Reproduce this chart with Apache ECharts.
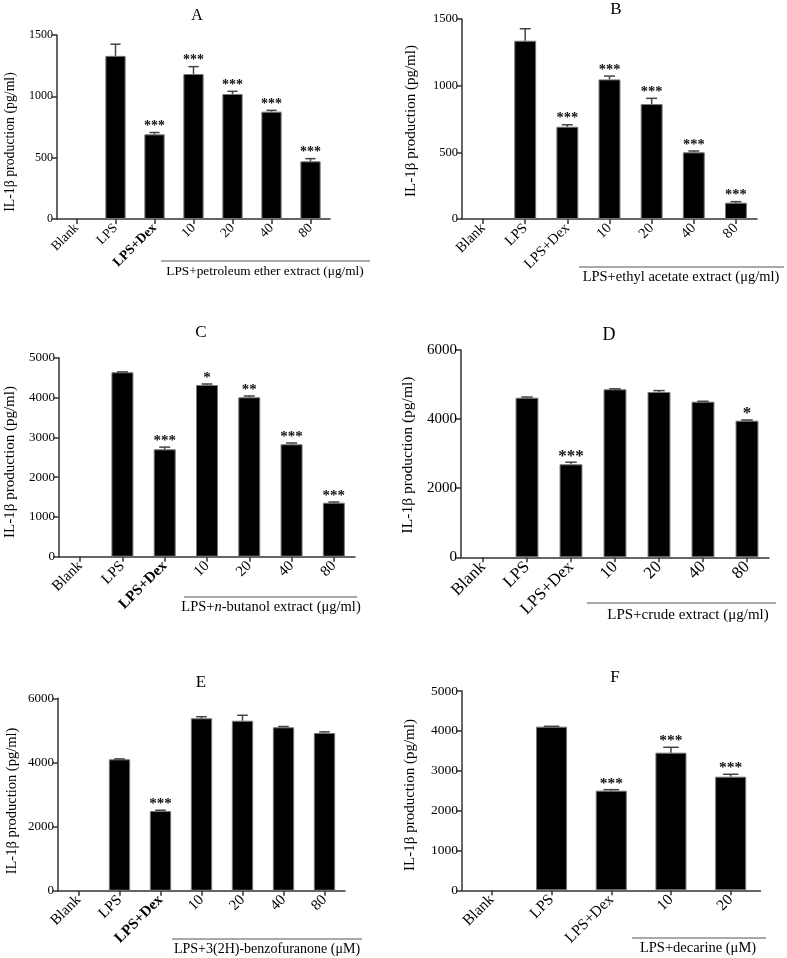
<!DOCTYPE html>
<html><head><meta charset="utf-8">
<script src="https://cdn.jsdelivr.net/npm/echarts@6/dist/echarts.min.js"></script>
<style>html,body{margin:0;padding:0;background:#fff}#c{width:787px;height:958px}</style>
</head><body><div id="c"></div>
<script>
// ---- data ----
const catsExtract = ['Blank', 'LPS', 'LPS+Dex', '10', '20', '40', '80'];
const catsDecarine = ['Blank', 'LPS', 'LPS+Dex', '10', '20'];

const valA = [0, 1330, 690, 1182, 1019, 875, 470];
const errA = [0, 95, 15, 60, 22, 11, 22];
const starsA = ['', '', '***', '***', '***', '***', '***'];

const valB = [0, 1337, 692, 1047, 862, 500, 122];
const errB = [0, 90, 15, 25, 43, 10, 8];
const starsB = ['', '', '***', '***', '***', '***', '***'];

const valC = [0, 4633, 2698, 4314, 4005, 2824, 1357];
const errC = [0, 10, 55, 25, 33, 33, 17];
const starsC = ['', '', '***', '*', '**', '***', '***'];

const valD = [0, 4619, 2692, 4862, 4785, 4504, 3954];
const errD = [0, 20, 60, 15, 40, 12, 20];
const starsD = ['', '', '***', '', '', '', '*'];

const valE = [0, 4098, 2485, 5376, 5301, 5096, 4918];
const errE = [0, 12, 25, 50, 170, 25, 35];
const starsE = ['', '', '***', '', '', '', ''];

const valF = [0, 4105, 2500, 3453, 2851];
const errF = [0, 10, 25, 135, 60];
const starsF = ['', '', '***', '***', '***'];

const yTitle = 'IL-1β production (pg/ml)';

// ---- layout ----
const SERIF = '"Liberation Serif", "Times New Roman", serif';
const panels = [
  {id:'A', cats:catsExtract, vals:valA, errs:errA, stars:starsA, max:1500, interval:500,
   group:'{r|LPS+petroleum ether extract (μg/ml)}', grid:{left:57, top:35, width:273, height:184},
   fs:12, gfs:13.3, tfs:16, title:[197,16], ylab:[10,142], line:[161,370,261], gtext:[265,272], boldDex:true},
  {id:'B', cats:catsExtract, vals:valB, errs:errB, stars:starsB, max:1500, interval:500,
   group:'{r|LPS+ethyl acetate extract (μg/ml)}', grid:{left:462, top:19, width:295, height:200},
   fs:12.5, gfs:14.5, tfs:17, title:[616,10], ylab:[411,121], line:[579,784,267], gtext:[681,277], boldDex:false},
  {id:'C', cats:catsExtract, vals:valC, errs:errC, stars:starsC, max:5000, interval:1000,
   group:'{r|LPS+}{i|n}{r|-butanol extract (μg/ml)}', grid:{left:59, top:357.7, width:296, height:199},
   fs:13, gfs:14.5, tfs:17, title:[201,333], ylab:[10,462], line:[184,357,597], gtext:[271,607], boldDex:true},
  {id:'D', cats:catsExtract, vals:valD, errs:errD, stars:starsD, max:6000, interval:2000,
   group:'{r|LPS+crude extract (μg/ml)}', grid:{left:461, top:350, width:308, height:207.3},
   fs:15, gfs:15, tfs:18, title:[609,335], ylab:[408,455], line:[587,776,603], gtext:[688,615], boldDex:false},
  {id:'E', cats:catsExtract, vals:valE, errs:errE, stars:starsE, max:6000, interval:2000,
   group:'{r|LPS+3(2H)-benzofuranone (μM)}', grid:{left:58, top:698.3, width:287, height:192.4},
   fs:13, gfs:14, tfs:17, title:[201,683], ylab:[12,801], line:[172,362,939], gtext:[267,949], boldDex:true},
  {id:'F', cats:catsDecarine, vals:valF, errs:errF, stars:starsF, max:5000, interval:1000,
   group:'{r|LPS+decarine (μM)}', grid:{left:462, top:691, width:298.5, height:199.3},
   fs:13.5, gfs:14.5, tfs:17, title:[615,678], ylab:[410,795], line:[632,766,938], gtext:[698,948], boldDex:false}
];

const AX = '#333';
const grids = [], xAxes = [], yAxes = [], series = [], graphics = [];

panels.forEach((p, k) => {
  const cfs = Math.round((p.fs * 1.1 + 0.5) * 2) / 2;
  grids.push(Object.assign({containLabel:false}, p.grid));
  xAxes.push({
    type:'category', gridIndex:k, data:p.cats,
    axisLine:{show:true, lineStyle:{color:AX, width:1.5}},
    axisTick:{show:true, alignWithLabel:true, length:5, lineStyle:{color:AX, width:1.5}},
    axisLabel:{rotate:45, margin:7, color:'#000', fontFamily:SERIF, fontSize:cfs,
      formatter: v => (v === 'LPS+Dex' && p.boldDex) ? '{b|' + v + '}' : v,
      rich:{b:{fontWeight:'bold', fontFamily:SERIF, fontSize:cfs, color:'#000'}}},
    splitLine:{show:false}
  });
  yAxes.push({
    type:'value', gridIndex:k, min:0, max:p.max, interval:p.interval,
    axisLine:{show:true, lineStyle:{color:AX, width:1.5}},
    axisTick:{show:true, length:5, lineStyle:{color:AX, width:1.5}},
    axisLabel:{color:'#000', fontFamily:SERIF, fontSize:p.fs, margin:4, formatter: v => String(v)},
    splitLine:{show:false}
  });
  series.push({
    type:'bar', xAxisIndex:k, yAxisIndex:k, barWidth:'52%', silent:true, animation:false,
    data:p.vals.map(v => ({value:v, itemStyle:{borderWidth: v > 0 ? 1 : 0}})),
    itemStyle:{color:'#000', borderColor:'#777', borderWidth:1}
  });
  const ebData = p.vals.map((v, i) => [i, v, p.errs[i]]);
  series.push({
    type:'custom', xAxisIndex:k, yAxisIndex:k, data:ebData, z:5, animation:false, silent:true,
    renderItem: function(params, api){
      const i = api.value(0), v = api.value(1), e = api.value(2);
      const base = api.coord([i, v]);
      const top = api.coord([i, v + e]);
      const cap = api.size([1, 0])[0] * 0.13;
      const ch = [];
      if (v > 0) {
        ch.push({type:'line', shape:{x1:base[0], y1:base[1], x2:top[0], y2:top[1]}, style:{stroke:'#444', lineWidth:1.5}});
        ch.push({type:'line', shape:{x1:top[0]-cap, y1:top[1], x2:top[0]+cap, y2:top[1]}, style:{stroke:'#444', lineWidth:1.5}});
      }
      const s = p.stars[params.dataIndex];
      if (s) ch.push({type:'text', x:top[0], y:top[1] - 6, style:{text:s, align:'center', verticalAlign:'middle',
        fontFamily:SERIF, fontWeight:'bold', fontSize:p.fs + 2, fill:'#111'}});
      return {type:'group', children:ch};
    }
  });
  graphics.push({type:'text', x:p.title[0], y:p.title[1], style:{text:p.id, align:'center', verticalAlign:'middle',
    fontFamily:SERIF, fontSize:p.tfs, fill:'#000'}});
  graphics.push({type:'text', x:p.ylab[0], y:p.ylab[1], rotation:Math.PI/2, style:{text:yTitle, align:'center', verticalAlign:'middle',
    fontFamily:SERIF, fontSize:p.gfs + 0.5, fill:'#000'}});
  graphics.push({type:'line', shape:{x1:p.line[0], y1:p.line[2], x2:p.line[1], y2:p.line[2]}, style:{stroke:'#555', lineWidth:1}});
  graphics.push({type:'text', x:p.gtext[0], y:p.gtext[1], style:{text:p.group, align:'center', verticalAlign:'middle',
    fill:'#000', rich:{
      r:{fontFamily:SERIF, fontSize:p.gfs, fill:'#000'},
      i:{fontFamily:SERIF, fontSize:p.gfs, fontStyle:'italic', fill:'#000'}}}});
});

const chart = echarts.init(document.getElementById('c'), null, {renderer:'canvas'});
chart.setOption({
  animation:false, backgroundColor:'#fff',
  grid:grids, xAxis:xAxes, yAxis:yAxes, series:series, graphic:graphics
});
</script></body></html>
